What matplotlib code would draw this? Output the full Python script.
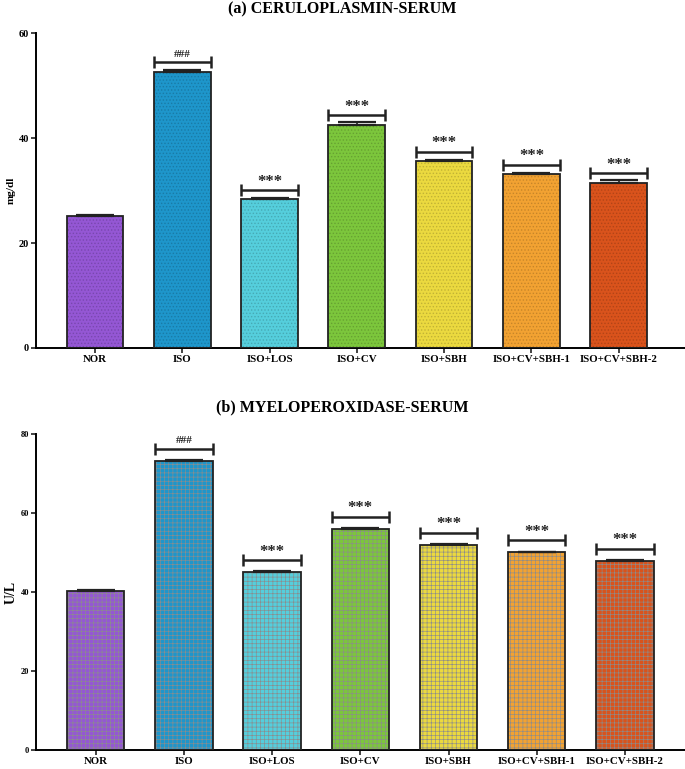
import matplotlib
matplotlib.use("Agg")
import matplotlib.pyplot as plt
import matplotlib.colors as mcolors
import numpy as np

plt.rcParams['font.family'] = ['Liberation Serif', 'DejaVu Serif']
plt.rcParams['font.weight'] = 'bold'

groups = ["NOR", "ISO", "ISO+LOS", "ISO+CV", "ISO+SBH", "ISO+CV+SBH-1", "ISO+CV+SBH-2"]
colors = ["#9457D4", "#1E96CB", "#55CEDC", "#7CC63C", "#EBD93F", "#F2A232", "#D9531C"]

cp_mean = [25.2, 52.6, 28.3, 42.5, 35.6, 33.1, 31.5]
cp_err = [0.2, 0.3, 0.2, 0.5, 0.3, 0.2, 0.5]
cp_sig = ["", "###", "***", "***", "***", "***", "***"]

mpo_mean = [40.4, 73.2, 45.1, 56.1, 52.0, 50.1, 48.0]
mpo_err = [0.2, 0.2, 0.2, 0.2, 0.2, 0.2, 0.2]
mpo_sig = ["", "###", "***", "***", "***", "***", "***"]

fig = plt.figure(figsize=(6.85, 7.69), dpi=100)

def darker(c, f=0.75):
    r, g, b = mcolors.to_rgb(c)
    return (r * f, g * f, b * f)

def panel(ax, means, errs, sigs, title, ylabel, ymax, yticks, hatch, hatch_cols, hatch_lw,
          tick_fs, ylabel_fs, xlim_r, offset):
    x = np.arange(len(groups))
    w = 0.65
    plt.rcParams['hatch.linewidth'] = hatch_lw
    for i in range(len(groups)):
        plt.rcParams['hatch.color'] = hatch_cols[i]
        ax.bar(x[i], means[i], width=w, color=colors[i], edgecolor=hatch_cols[i],
               linewidth=0, hatch=hatch, zorder=2)
    ax.bar(x, means, width=w, fill=False, edgecolor="#222222", linewidth=1.3, zorder=3)
    ax.errorbar(x, means, yerr=[np.zeros(len(x)), errs], fmt='none', ecolor="#222222",
                elinewidth=1.2, capsize=14, capthick=1.6, zorder=4)
    for i in range(len(groups)):
        if sigs[i]:
            yb = means[i] + offset
            ax.errorbar(x[i], yb, xerr=w / 2, fmt='none', ecolor="#222222",
                        elinewidth=1.8, capsize=4.5, capthick=1.8, zorder=4)
            if sigs[i] == "###":
                ax.text(x[i], yb + offset * 0.35, sigs[i], ha='center', va='bottom',
                        fontsize=8, fontweight='bold', color="#222222")
            else:
                ax.text(x[i], yb + offset * 0.05, sigs[i], ha='center', va='bottom',
                        fontsize=12, fontweight='bold', color="#222222")
    ax.set_xlim(-0.675, xlim_r)
    ax.set_ylim(0, ymax)
    ax.set_yticks(yticks)
    ax.set_yticklabels([str(t) for t in yticks], fontsize=tick_fs, fontweight='bold')
    ax.set_xticks(x)
    ax.set_xticklabels(groups, fontsize=7.8, fontweight='bold')
    ax.spines['top'].set_visible(False)
    ax.spines['right'].set_visible(False)
    ax.spines['left'].set_linewidth(1.4)
    ax.spines['bottom'].set_linewidth(1.4)
    ax.tick_params(axis='both', length=3.5, width=1.2, pad=1.5, color="#222222")
    ax.set_ylabel(ylabel, fontsize=ylabel_fs, fontweight='bold', labelpad=2)

ax1 = fig.add_axes([0.0526, 0.5475, 0.9474, 0.4095])
panel(ax1, cp_mean, cp_err, cp_sig, "(a) CERULOPLASMIN-SERUM", "mg/dl", 60,
      [0, 20, 40, 60], '.....', [darker(c, 0.82) for c in colors], 0.6, 7.5, 8, 6.76, 1.8)
fig.text(0.5, 1 - 9 / 769, "(a) CERULOPLASMIN-SERUM", ha='center', va='center',
         fontsize=11.5, fontweight='bold')

ax2 = fig.add_axes([0.0526, 0.0251, 0.9474, 0.4099])
panel(ax2, mpo_mean, mpo_err, mpo_sig, "(b) MYELOPEROXIDASE-SERUM", "U/L", 80,
      [0, 20, 40, 60, 80], '++++', ["#8c8c8c"] * 7, 0.45, 6, 10, 6.68, 3.0)
fig.text(0.5, 1 - 407 / 769, "(b) MYELOPEROXIDASE-SERUM", ha='center', va='center',
         fontsize=11.5, fontweight='bold')

fig.savefig("out.png", dpi=100)
